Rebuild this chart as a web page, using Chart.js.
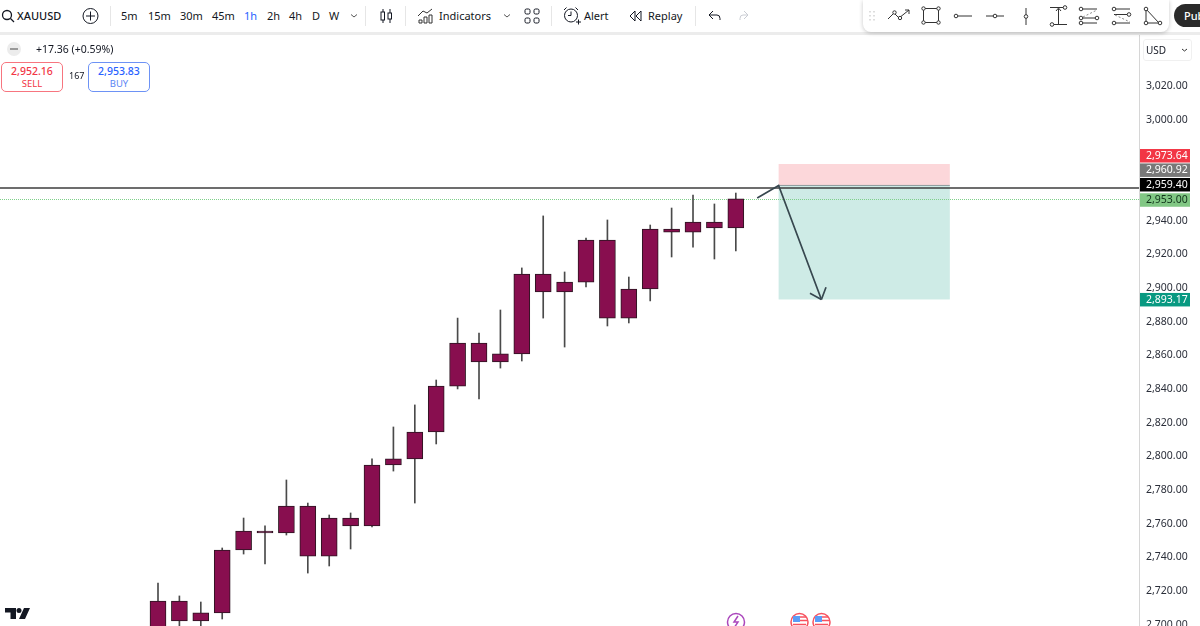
<!DOCTYPE html>
<html>
<head>
<meta charset="utf-8">
<title>XAUUSD</title>
<script src="https://cdn.jsdelivr.net/npm/chart.js@4"></script>
<style>
  html, body { margin: 0; padding: 0; background: #fff; }
  #wrap { position: relative; width: 1200px; height: 626px; overflow: hidden; font-family: "Noto Sans", sans-serif; color: #131722; }
  #chart { position: absolute; left: 0; top: 0; }
  .t { position: absolute; white-space: nowrap; font-size: 11px; line-height: 16px; transform: translateY(-50%); }
  .sep { position: absolute; top: 6px; height: 20px; width: 1px; background: #e6e6e6; }
  #topbar { position: absolute; left: 0; top: 0; width: 1200px; height: 32px; background: #fff; border-bottom: 3px solid #ececec; }
  #drawbar { position: absolute; left: 863px; top: 0; width: 306px; height: 32px; background: #fff; border-radius: 0 0 8px 8px; box-shadow: 0 1px 4px rgba(0,0,0,.22); }
  #pub { position: absolute; left: 1174px; top: 4px; width: 50px; height: 23px; border-radius: 12px; background: #2a2a2a; }
  .quote { position: absolute; top: 62px; width: 60px; height: 28px; border: 1px solid; border-radius: 5px; background: #fff; text-align: center; }
  .quote b { display: block; font-weight: 500; font-size: 10.5px; line-height: 14px; margin-top: 1px; }
  .quote span { display: block; font-size: 9.5px; line-height: 12px; }
  #usd { position: absolute; left: 1143px; top: 39px; width: 47px; height: 20px; border: 1px solid #f0f0f0; border-radius: 3px; }
  svg.ic { position: absolute; left: 0; top: 0; pointer-events: none; }
</style>
</head>
<body>
<div id="wrap">
  <canvas id="chart" width="1200" height="626"></canvas>

  <div id="topbar"></div>
  <div class="sep" style="left:110px"></div>
  <div class="sep" style="left:365px"></div>
  <div class="sep" style="left:405px"></div>
  <div class="sep" style="left:551px"></div>
  <div class="sep" style="left:695px"></div>
  <div id="drawbar"></div>
  <div id="pub"></div>

  <div class="t" style="left:17px;top:16px;font-weight:500">XAUUSD</div>
  <div class="t" style="left:121px;top:16px">5m</div>
  <div class="t" style="left:148px;top:16px">15m</div>
  <div class="t" style="left:180px;top:16px">30m</div>
  <div class="t" style="left:212px;top:16px">45m</div>
  <div class="t" style="left:244px;top:16px;color:#2962ff">1h</div>
  <div class="t" style="left:267px;top:16px">2h</div>
  <div class="t" style="left:289px;top:16px">4h</div>
  <div class="t" style="left:312px;top:16px">D</div>
  <div class="t" style="left:329px;top:16px">W</div>
  <div class="t" style="left:439px;top:16px">Indicators</div>
  <div class="t" style="left:584px;top:16px">Alert</div>
  <div class="t" style="left:648px;top:16px">Replay</div>
  <div class="t" style="left:1184px;top:16px;color:#fff;font-weight:500">Pub</div>

  <div class="t" style="left:36px;top:49px;font-size:10.5px">+17.36 (+0.59%)</div>
  <div class="quote" style="left:1px;border-color:#f7757f;color:#f23645"><b>2,952.16</b><span>SELL</span></div>
  <div class="t" style="left:69px;top:76px;font-size:9px">167</div>
  <div class="quote" style="left:88px;border-color:#6d92f5;color:#2962ff"><b>2,953.83</b><span style="color:#5a85f5">BUY</span></div>
  <div id="usd"></div>
  <div class="t" style="left:1146px;top:50px;font-size:10px">USD</div>

  <svg class="ic" width="1200" height="626" fill="none" stroke="#131722" stroke-width="1">
    <circle cx="7" cy="15" r="4.5" stroke-width="1.3"/><path d="M10.5 18.5l3.5 3.5" stroke-width="1.3"/>
    <circle cx="90.5" cy="16" r="7.5"/><path d="M90.5 11.5v9M86 16h9"/>
    <path d="M351 14.5l3 2.5 3-2.5M504 14.5l3 2.5 3-2.5" stroke="#555"/>
    <path d="M383 9v14M390 9v14"/><rect x="381" y="12" width="3.5" height="8" fill="#fff"/><rect x="388" y="13" width="3.5" height="6" fill="#fff"/>
    <path d="M418 16l5-5 4 2 5-4" stroke="#333"/><path d="M419 23v-3h3v3zM424 23v-6h3v6zM429 23v-8h3v8z" stroke="#333"/>
    <rect x="525" y="9" width="5" height="5" rx="1.5"/><rect x="534" y="9" width="5" height="5" rx="1.5"/><rect x="525" y="18" width="5" height="5" rx="1.5"/><rect x="534" y="18" width="5" height="5" rx="1.5"/>
    <circle cx="571" cy="15.5" r="6.5"/><path d="M571 11.5v4h-3M564 10l2.5-2.5M578 10l-2.5-2.5M576 22h5M578.5 19.5v5"/>
    <path d="M635 11l-5 5 5 5zM641 11l-5 5 5 5z"/>
    <path d="M713 11l-4 4 4 4M709 15h8q3 0 3 3.5v1.5"/>
    <path d="M744 11l4 4-4 4M748 15h-5q-3 0-3 3.5v1.5" stroke="#c9ccd3"/>
    <!-- drawing tools -->
    <g stroke="#bbb" stroke-dasharray="1.5 2.5"><path d="M870 11v11M874 11v11"/></g>
    <g stroke="#333">
    <path d="M888 19l6-6 5 5 10-8M905 10h4v4"/><circle cx="894.5" cy="12.5" r="1.7" fill="#fff"/><circle cx="900" cy="18" r="1.7" fill="#fff"/>
    <rect x="923.5" y="8.5" width="15" height="14"/><g fill="#fff"><circle cx="923.5" cy="8.5" r="1.7"/><circle cx="938.5" cy="8.5" r="1.7"/><circle cx="923.5" cy="22.5" r="1.7"/><circle cx="938.5" cy="22.5" r="1.7"/></g>
    <path d="M958 16h14"/><circle cx="956" cy="16" r="1.8" fill="#fff"/>
    <path d="M986 16h18"/><circle cx="995" cy="16" r="1.8" fill="#fff"/>
    <path d="M1026 8v17"/><circle cx="1026" cy="16.5" r="1.8" fill="#fff"/>
    <path d="M1050 7.5h14M1052 24.500h15M1058.500 24V9M1056 11l2.500-3 2.500 3"/><circle cx="1065" cy="7.500" r="1.800" fill="#fff"/><circle cx="1052" cy="24.500" r="1.800" fill="#fff"/>
    <path d="M1082 9h15M1082 18h15M1082 23h15"/><path d="M1083 17l14-7" stroke-dasharray="2 2" stroke="#888"/><g fill="#fff"><circle cx="1081" cy="9" r="1.800"/><circle cx="1097" cy="18" r="1.800"/><circle cx="1081" cy="18" r="1.800"/><circle cx="1081" cy="23" r="1.800"/></g>
    <path d="M1114 9h16M1114 14.500h16M1115 23h15"/><path d="M1115 15l15 7" stroke-dasharray="2 2" stroke="#888"/><g fill="#fff"><circle cx="1114" cy="9" r="1.800"/><circle cx="1129" cy="14.500" r="1.800"/><circle cx="1114" cy="23" r="1.800"/></g>
    <path d="M1146 9l13 14h-13z"/><g fill="#fff"><circle cx="1146" cy="9" r="1.800"/><circle cx="1146" cy="23" r="1.800"/><circle cx="1160" cy="23" r="1.800"/></g>
    </g>
    <path d="M1182 49l2.500 2 2.500-2" stroke="#333"/>
    <!-- collapse button next to the symbol row -->
    <circle cx="14" cy="49" r="7" fill="#ececec" stroke="none"/><path d="M10 49h8" stroke="#999" stroke-width="2"/>
    <!-- logo -->
    <path d="M5 608h11v11h-5.500v-6.500H5z M24 608h6l-5 11h-6z" fill="#131722" stroke="none"/><circle cx="19" cy="610.500" r="2.500" fill="#131722" stroke="none"/>
    <!-- event markers -->
    <circle cx="736" cy="622" r="8.500" stroke="#ab47bc" stroke-width="1.500" fill="#fff"/><path d="M738 616l-4 6h4l-4 6" stroke="#ab47bc" stroke-width="1.500"/>
    <g>
      <circle cx="799.500" cy="622" r="8.500" stroke="#f7525f" stroke-width="1.500" fill="#fff"/>
      <rect x="793" y="616" width="7" height="6" fill="#5b9cf6" stroke="none"/><path d="M800 617h6M800 620.500h7M793 624.500h13" stroke="#f7525f" stroke-width="1.500"/>
      <circle cx="821.500" cy="622" r="8.500" stroke="#f7525f" stroke-width="1.500" fill="#fff"/>
      <rect x="815" y="616" width="7" height="6" fill="#5b9cf6" stroke="none"/><path d="M822 617h6M822 620.500h7M815 624.500h13" stroke="#f7525f" stroke-width="1.500"/>
    </g>
  </svg>
</div>

<script>
// --- Candles, oldest first (1h XAUUSD) ---
const opens  = [2714.0, 2714.0, 2706.9, 2706.9, 2744.3, 2755.6, 2754.4, 2770.4, 2763.3, 2758.6, 2758.6, 2794.8, 2798.4, 2814.4, 2841.7, 2867.3, 2856.0, 2860.8, 2908.3, 2897.6, 2903.5, 2928.5, 2882.1, 2899.4, 2933.2, 2933.2, 2935.6, 2935.6];
const closes = [2694.0, 2702.1, 2702.1, 2744.3, 2755.6, 2754.4, 2770.4, 2740.7, 2740.7, 2763.3, 2794.8, 2798.4, 2814.4, 2841.7, 2867.3, 2856.0, 2860.8, 2908.3, 2897.6, 2903.5, 2928.5, 2882.1, 2899.4, 2935.0, 2935.0, 2939.2, 2939.2, 2952.9];
const highs  = [2724.7, 2717.0, 2713.4, 2745.5, 2763.3, 2758.6, 2785.9, 2772.2, 2765.1, 2766.3, 2798.4, 2817.4, 2830.5, 2845.3, 2882.1, 2873.2, 2886.9, 2911.9, 2942.8, 2909.5, 2929.7, 2940.4, 2906.5, 2937.4, 2947.5, 2955.2, 2949.9, 2956.4];
const lows   = [2690.0, 2697.0, 2697.0, 2703.3, 2741.9, 2736.0, 2753.2, 2730.6, 2734.8, 2744.9, 2758.0, 2791.2, 2772.2, 2807.3, 2840.0, 2834.0, 2852.4, 2856.6, 2882.1, 2864.9, 2900.6, 2877.4, 2879.2, 2892.3, 2918.4, 2924.3, 2917.2, 2922.0];

// --- Price axis ---
const priceTicks = [3020, 3000, 2940, 2920, 2900, 2880, 2860, 2840, 2820, 2800, 2780, 2760, 2740, 2720, 2700];

// --- Price tags on the axis ---
const tagPrices = [2973.64, 2960.92, 2959.40, 2953.00, 2893.17];
const tagColors = ['#f23645', '#787878', '#000000', '#81c784', '#089981'];
const tagText   = ['#fff', '#fff', '#fff', '#10331a', '#fff'];
const tagNudge  = [-8.5, -15.5, -3.5, 1, 0]; // labels get pushed apart so they don't overlap

// --- Short position drawing, x is in bars ---
const stopPrice = 2973.64, entryPrice = 2960.92, targetPrice = 2893.17;
const boxBars = [29, 37];
const pathBars = [28, 29, 31];
const pathPrices = [2953.5, 2960.92, 2893.17];
const lastLine = 2959.40, bidLine = 2953.00;

const money = v => v.toLocaleString('en-US', { minimumFractionDigits: 2, maximumFractionDigits: 2 });
const idx = opens.map((_, i) => i);

const drawingPlugin = {
    id: 'drawing',
    beforeDatasetsDraw(chart) {
        const { ctx, chartArea: a, scales: { x, y } } = chart;
        const x0 = x.getPixelForValue(boxBars[0]), x1 = x.getPixelForValue(boxBars[1]);
        ctx.save();
        ctx.fillStyle = 'rgba(242,54,69,0.2)';
        ctx.fillRect(x0, y.getPixelForValue(stopPrice), x1 - x0, y.getPixelForValue(entryPrice) - y.getPixelForValue(stopPrice));
        ctx.fillStyle = 'rgba(8,153,129,0.2)';
        ctx.fillRect(x0, y.getPixelForValue(entryPrice), x1 - x0, y.getPixelForValue(targetPrice) - y.getPixelForValue(entryPrice));
        ctx.strokeStyle = '#8c9a9c';
        ctx.lineWidth = 1;
        ctx.beginPath();
        ctx.moveTo(x0, y.getPixelForValue(entryPrice));
        ctx.lineTo(x1, y.getPixelForValue(entryPrice));
        ctx.stroke();

        // bid line is dotted and very light
        ctx.strokeStyle = '#7fd08a';
        ctx.setLineDash([1, 1]);
        ctx.beginPath();
        ctx.moveTo(a.left, Math.round(y.getPixelForValue(bidLine)) + 0.5);
        ctx.lineTo(a.right, Math.round(y.getPixelForValue(bidLine)) + 0.5);
        ctx.stroke();
        ctx.restore();
    },
    afterDatasetsDraw(chart) {
        const { ctx, chartArea: a, scales: { x, y } } = chart;
        ctx.save();
        // horizontal line at the last price
        ctx.strokeStyle = '#3c3c3c';
        ctx.lineWidth = 1.5;
        ctx.beginPath();
        ctx.moveTo(a.left, y.getPixelForValue(lastLine));
        ctx.lineTo(a.right, y.getPixelForValue(lastLine));
        ctx.stroke();

        // path + arrow head
        const pts = pathBars.map((b, i) => [x.getPixelForValue(b), y.getPixelForValue(pathPrices[i])]);
        ctx.strokeStyle = '#37474f';
        ctx.lineWidth = 1.7;
        ctx.beginPath();
        pts.forEach((p, i) => i ? ctx.lineTo(p[0], p[1]) : ctx.moveTo(p[0], p[1]));
        ctx.stroke();
        const tip = pts[pts.length - 1], prev = pts[pts.length - 2];
        const ang = Math.atan2(tip[1] - prev[1], tip[0] - prev[0]);
        ctx.beginPath();
        [-0.72, 0.72].forEach(d => {
            ctx.moveTo(tip[0], tip[1]);
            ctx.lineTo(tip[0] - 13 * Math.cos(ang + d), tip[1] - 13 * Math.sin(ang + d));
        });
        ctx.stroke();

        // tags
        ctx.font = '10.5px "Noto Sans", sans-serif';
        ctx.textBaseline = 'middle';
        ctx.textAlign = 'left';
        tagPrices.forEach((p, i) => {
            const cy = y.getPixelForValue(p) + tagNudge[i];
            ctx.fillStyle = tagColors[i];
            ctx.fillRect(a.right + 1, cy - 6.5, 50, 13.5);
            ctx.fillStyle = tagText[i];
            ctx.fillText(money(p), a.right + 7, cy + 0.5);
        });
        ctx.restore();
    }
};

new Chart(document.getElementById('chart').getContext('2d'), {
    type: 'bar',
    data: {
        datasets: [{
            label: 'Bodies',
            data: idx.map(i => ({ x: i, y: [opens[i], closes[i]] })),
            backgroundColor: '#880e4f',
            borderColor: '#2b1520',
            borderWidth: 1,
            borderSkipped: false,
            barThickness: 16,
            grouped: false,
            order: 1
        }, {
            label: 'Wicks',
            data: idx.map(i => ({ x: i, y: [lows[i], highs[i]] })),
            backgroundColor: '#4a4a4a',
            borderWidth: 0,
            barThickness: 1,
            grouped: false,
            order: 2
        }]
    },
    options: {
        responsive: false,
        animation: false,
        layout: { padding: { top: 33 } },
        plugins: { legend: { display: false }, tooltip: { enabled: false } },
        scales: {
            x: {
                type: 'linear',
                display: false,
                min: -7.383,
                max: 45.84,
                offset: false
            },
            y: {
                position: 'right',
                min: 2699.14,
                max: 3051.49,
                grid: { display: false, drawTicks: false },
                border: { display: true, color: '#d6d6d6', width: 1 },
                afterFit: s => { s.width = 61; s.paddingTop = 0; s.paddingBottom = 0; },
                afterBuildTicks: s => { s.ticks = priceTicks.map(value => ({ value })); },
                ticks: {
                    padding: 7,
                    autoSkip: false,
                    maxRotation: 0,
                    color: '#2a2e39',
                    font: { family: '"Noto Sans", sans-serif', size: 10.5 },
                    callback: v => money(v)
                }
            }
        }
    },
    plugins: [drawingPlugin]
});
</script>
</body>
</html>
